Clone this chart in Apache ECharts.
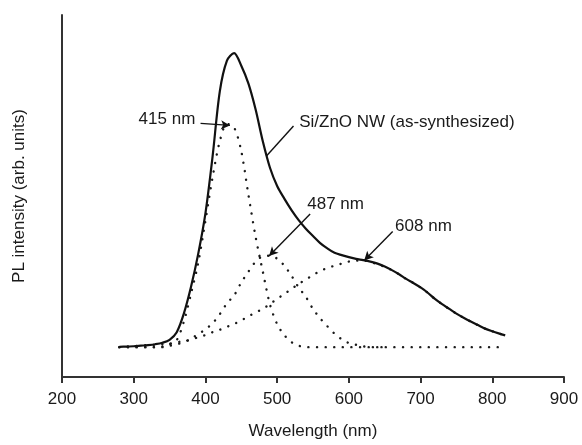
<!DOCTYPE html>
<html>
<head>
<meta charset="utf-8">
<script src="https://cdn.jsdelivr.net/npm/echarts@6/dist/echarts.min.js"></script>
<style>
html,body{margin:0;padding:0;background:#fff;}
#chart{width:582px;height:445px;}
</style>
</head>
<body>
<div id="chart"></div>
<script>
// Wavelength grid (nm)
var wavelengths = [280,290,300,310,320,330,340,350,360,370,380,390,400,410,420,430,440,450,460,470,480,490,500,510,520,530,540,550,560,570,580,590,600,610,620,630,640,650,660,670,680,690,700,710,720,730,740,750,760,770,780,790,800,810,818];

// Measured PL spectrum (solid)
var totalPL = [0.001,0.002,0.003,0.005,0.007,0.010,0.015,0.025,0.051,0.115,0.206,0.318,0.455,0.649,0.869,0.974,1.000,0.957,0.896,0.808,0.700,0.610,0.548,0.505,0.466,0.432,0.403,0.378,0.354,0.336,0.321,0.313,0.306,0.300,0.296,0.291,0.284,0.274,0.262,0.248,0.232,0.218,0.203,0.185,0.164,0.146,0.130,0.114,0.100,0.087,0.075,0.063,0.054,0.046,0.040];

// Fitted components (dotted); null = not drawn
var peak415 = [0,0,0,0,0,0,0,0.010,0.024,0.088,0.183,0.287,0.430,0.578,0.700,0.759,0.747,0.666,0.517,0.375,0.257,0.145,0.078,0.041,0.017,0.005,0,0,0,0,0,0,0,0,0,0,0,0,0,0,0,0,0,0,0,0,0,0,0,0,0,0,0,0,0];
var peak487 = [0,0,0,0,0,0,0.002,0.005,0.010,0.017,0.030,0.044,0.061,0.081,0.112,0.149,0.176,0.220,0.257,0.291,0.309,0.311,0.301,0.277,0.243,0.203,0.171,0.130,0.098,0.071,0.046,0.027,0.014,0.008,0.003,0,0,0,null,null,null,null,null,null,null,null,null,null,null,null,null,null,null,null,null];
var peak608 = [0,0.002,0.003,0.005,0.007,0.008,0.010,0.012,0.017,0.020,0.025,0.034,0.041,0.051,0.059,0.069,0.079,0.091,0.105,0.118,0.130,0.147,0.164,0.181,0.198,0.215,0.230,0.245,0.259,0.269,0.277,0.284,0.291,0.294,0.295,0.289,0.282,0.273,0.262,0.248,0.232,0.218,0.203,0.185,0.164,0.146,0.130,0.114,0.100,0.087,0.075,0.063,0.054,0.046,0.040];

// Axis ticks
var xTicks = [200,300,400,500,600,700,800,900];

// Annotations (positions in data units)
var annotations = [
  {text:'415 nm', at:[385.9,0.774], side:'left', from:[393.2,0.761], to:[434.2,0.754], head:true},
  {text:'487 nm', at:[542,0.487], side:'right', from:[546,0.453], to:[488.7,0.310], head:true},
  {text:'608 nm', at:[664.5,0.412], side:'right', from:[661.1,0.393], to:[621.4,0.295], head:true},
  {text:'Si/ZnO NW (as-synthesized)', at:[530.7,0.763], side:'right', from:[522.8,0.752], to:[484.8,0.649], head:false}
];

var FONT = '"Liberation Sans", Arial, Helvetica, sans-serif';
var TEXT = '#1a1a1a';
function pairs(vals){ return wavelengths.map(function(w,i){ return [w, vals[i]]; }); }

var dotStyle = {color:'#1a1a1a', width:2.4, type:[0.1,8.5], cap:'round'};

var markLineData = annotations.map(function(a){
  return [
    {coord:a.from, symbol:'none'},
    {coord:a.to, symbol:a.head ? 'arrow' : 'none', symbolSize:[7,9]}
  ];
});
var markPointData = annotations.map(function(a){
  return {
    coord:a.at, symbol:'circle', symbolSize:0,
    label:{show:true, formatter:a.text, position:a.side, distance:0,
      color:TEXT, fontSize:17, fontFamily:FONT}
  };
});

var chart = echarts.init(document.getElementById('chart'), null, {renderer:'canvas'});
chart.setOption({
  animation:false,
  backgroundColor:'#fff',
  grid:{left:62, right:18, top:15, bottom:66},
  xAxis:{
    type:'value', min:xTicks[0], max:xTicks[xTicks.length-1], interval:100,
    name:'Wavelength (nm)', nameLocation:'middle', nameGap:46,
    nameTextStyle:{color:TEXT, fontSize:17, fontFamily:FONT},
    axisLine:{show:true, onZero:false, lineStyle:{color:'#333', width:2}},
    axisTick:{show:true, inside:false, length:6, lineStyle:{color:'#333', width:2}},
    axisLabel:{color:TEXT, fontSize:17, fontFamily:FONT, margin:14},
    splitLine:{show:false}
  },
  yAxis:{
    type:'value', min:-0.1015, max:1.1295,
    name:'PL intensity (arb. units)', nameLocation:'middle', nameGap:34, nameRotate:90,
    nameTextStyle:{color:TEXT, fontSize:17, fontFamily:FONT},
    axisLine:{show:true, onZero:false, lineStyle:{color:'#333', width:2}},
    axisTick:{show:false}, axisLabel:{show:false}, splitLine:{show:false}
  },
  series:[
    {type:'line', name:'415 nm', data:pairs(peak415), smooth:0.3, showSymbol:false, lineStyle:dotStyle, z:2},
    {type:'line', name:'487 nm', data:pairs(peak487), smooth:0.3, showSymbol:false, connectNulls:false, lineStyle:dotStyle, z:2},
    {type:'line', name:'608 nm', data:pairs(peak608), smooth:0.3, showSymbol:false, lineStyle:dotStyle, z:2},
    {type:'line', name:'Si/ZnO NW', data:pairs(totalPL), smooth:0.3, showSymbol:false,
      lineStyle:{color:'#111', width:2.2}, z:3,
      markLine:{silent:true, animation:false, symbol:['none','arrow'],
        lineStyle:{color:'#111', width:1.4, type:'solid'}, label:{show:false},
        emphasis:{disabled:true}, data:markLineData},
      markPoint:{silent:true, animation:false, data:markPointData}
    }
  ]
});
</script>
</body>
</html>
